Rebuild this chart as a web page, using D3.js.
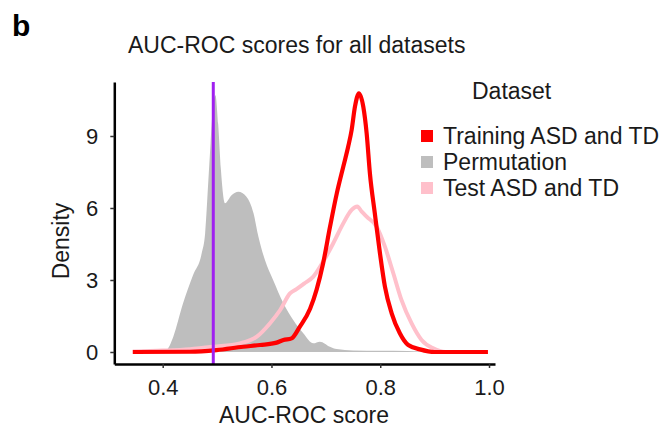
<!DOCTYPE html>
<html>
<head>
<meta charset="utf-8">
<script src="https://cdn.jsdelivr.net/npm/d3@7"></script>
<style>
  html, body { margin: 0; padding: 0; background: #fff; }
  svg { display: block; font-family: "Liberation Sans", Arial, Helvetica, sans-serif; }
</style>
</head>
<body>
<svg id="chart" width="668" height="434"></svg>
<script>
// ---- data ----
const seriesNames = ["Training ASD and TD", "Permutation", "Test ASD and TD"];
const seriesColors = ["#ff0000", "#bebebe", "#ffc0cb"];

const permX = [0.39, 0.400, 0.407, 0.4195, 0.437, 0.4557, 0.4717, 0.478, 0.484, 0.488, 0.492, 0.497, 0.502, 0.507, 0.5145, 0.527, 0.539, 0.554, 0.567, 0.576, 0.588, 0.603, 0.622, 0.640, 0.6585, 0.677, 0.689, 0.7075, 0.72, 0.75, 0.80, 0.85, 0.90];
const permY = [0, 0.03, 0.08, 0.64, 2.0, 3.2, 4.11, 4.94, 7.17, 8.7, 10.1, 10.7, 9.5, 7.6, 6.2, 6.54, 6.68, 6.47, 5.78, 4.8, 3.83, 3.0, 2.03, 1.33, 0.78, 0.36, 0.43, 0.22, 0.12, 0.06, 0.05, 0.04, 0];

const trainX = [0.345, 0.45, 0.499, 0.548, 0.579, 0.6095, 0.622, 0.637, 0.652, 0.671, 0.683, 0.695, 0.7075, 0.72, 0.732, 0.741, 0.7474, 0.7535, 0.7608, 0.7688, 0.775, 0.781, 0.790, 0.7995, 0.8086, 0.821, 0.836, 0.8515, 0.873, 0.90, 0.998];
const trainY = [0, 0.01, 0.08, 0.22, 0.29, 0.39, 0.5, 0.57, 1.05, 1.8, 2.6, 3.7, 5.2, 6.6, 7.72, 8.55, 9.25, 10.22, 10.78, 10.22, 9.11, 7.44, 5.78, 4.11, 2.72, 1.61, 0.78, 0.29, 0.11, 0, 0];

const testX = [0.345, 0.40, 0.45, 0.493, 0.542, 0.573, 0.597, 0.616, 0.634, 0.646, 0.66, 0.677, 0.695, 0.7136, 0.732, 0.7474, 0.7577, 0.766, 0.775, 0.7934, 0.8086, 0.824, 0.839, 0.8577, 0.876, 0.8975, 0.92, 0.998];
const testY = [0.02, 0.06, 0.12, 0.22, 0.36, 0.64, 1.19, 1.75, 2.44, 2.62, 2.85, 3.14, 3.76, 4.53, 5.36, 5.92, 6.06, 5.85, 5.64, 5.22, 4.39, 3.28, 2.17, 1.19, 0.5, 0.15, 0, 0];

const chanceLine = 0.493;
const xTicks = [0.4, 0.6, 0.8, 1.0];
const yTicks = [0, 3, 6, 9];

// ---- layout ----
const svg = d3.select("#chart");
const x = d3.scaleLinear().domain([0.311, 1.011]).range([114.3, 495]);
const y = d3.scaleLinear().domain([-0.5, 11.25]).range([364, 82]);

const zip = (xs, ys) => xs.map((v, i) => [v, ys[i]]);

// permutation filled density
const area = d3.area()
  .x(d => x(d[0])).y0(y(0)).y1(d => y(d[1]))
  .curve(d3.curveMonotoneX);
svg.append("path")
  .datum(zip(permX, permY))
  .attr("d", area)
  .attr("fill", seriesColors[1]);

const line = d3.line()
  .x(d => x(d[0])).y(d => y(d[1]))
  .curve(d3.curveMonotoneX);

svg.append("path")
  .datum(zip(testX, testY))
  .attr("d", line)
  .attr("fill", "none")
  .attr("stroke", seriesColors[2])
  .attr("stroke-width", 4)
  .attr("stroke-linejoin", "round");

svg.append("path")
  .datum(zip(trainX, trainY))
  .attr("d", line)
  .attr("fill", "none")
  .attr("stroke", seriesColors[0])
  .attr("stroke-width", 4.2)
  .attr("stroke-linejoin", "round");

// vertical chance line
svg.append("line")
  .attr("x1", x(chanceLine)).attr("x2", x(chanceLine))
  .attr("y1", y.range()[1]).attr("y2", y.range()[0])
  .attr("stroke", "#a020f0")
  .attr("stroke-width", 3);

// axes
const xAxis = svg.append("g")
  .attr("transform", `translate(0,${y.range()[0]})`)
  .call(d3.axisBottom(x).tickValues(xTicks).tickFormat(d3.format(".1f")).tickSizeInner(4).tickSizeOuter(0).tickPadding(6));
const yAxis = svg.append("g")
  .attr("transform", `translate(${x.range()[0]},0)`)
  .call(d3.axisLeft(y).tickValues(yTicks).tickFormat(d3.format("d")).tickSizeInner(4).tickSizeOuter(0).tickPadding(12));

[xAxis, yAxis].forEach(g => {
  g.select(".domain").attr("stroke", "#000").attr("stroke-width", 2.5);
  g.selectAll(".tick line").attr("stroke", "#333").attr("stroke-width", 1.5);
  g.selectAll(".tick text").attr("fill", "#1a1a1a").attr("font-size", 22)
    .attr("font-family", "'Liberation Sans', Arial, sans-serif");
});
xAxis.selectAll(".tick text").attr("dy", "0.95em");
yAxis.selectAll(".tick text").attr("dy", "0.36em");

// titles
svg.append("text").attr("x", 12).attr("y", 36)
  .attr("font-size", 30).attr("font-weight", "bold").attr("fill", "#000").text("b");
svg.append("text").attr("x", 128).attr("y", 53)
  .attr("font-size", 23).attr("fill", "#1a1a1a").text("AUC-ROC scores for all datasets");
svg.append("text").attr("x", 304).attr("y", 423)
  .attr("text-anchor", "middle")
  .attr("font-size", 23).attr("fill", "#1a1a1a").text("AUC-ROC score");
svg.append("text")
  .attr("transform", "translate(69,241) rotate(-90)")
  .attr("text-anchor", "middle")
  .attr("font-size", 23).attr("fill", "#1a1a1a").text("Density");

// legend
const lg = svg.append("g");
lg.append("text").attr("x", 472).attr("y", 99)
  .attr("font-size", 23).attr("fill", "#1a1a1a").text("Dataset");
const rowsY = [136, 162, 188];
seriesNames.forEach((name, i) => {
  lg.append("rect").attr("x", 421).attr("y", rowsY[i] - 6)
    .attr("width", 12).attr("height", 12).attr("fill", seriesColors[i]);
  lg.append("text").attr("x", 443).attr("y", rowsY[i] + 8)
    .attr("font-size", 23).attr("fill", "#1a1a1a").text(name);
});
</script>
</body>
</html>
